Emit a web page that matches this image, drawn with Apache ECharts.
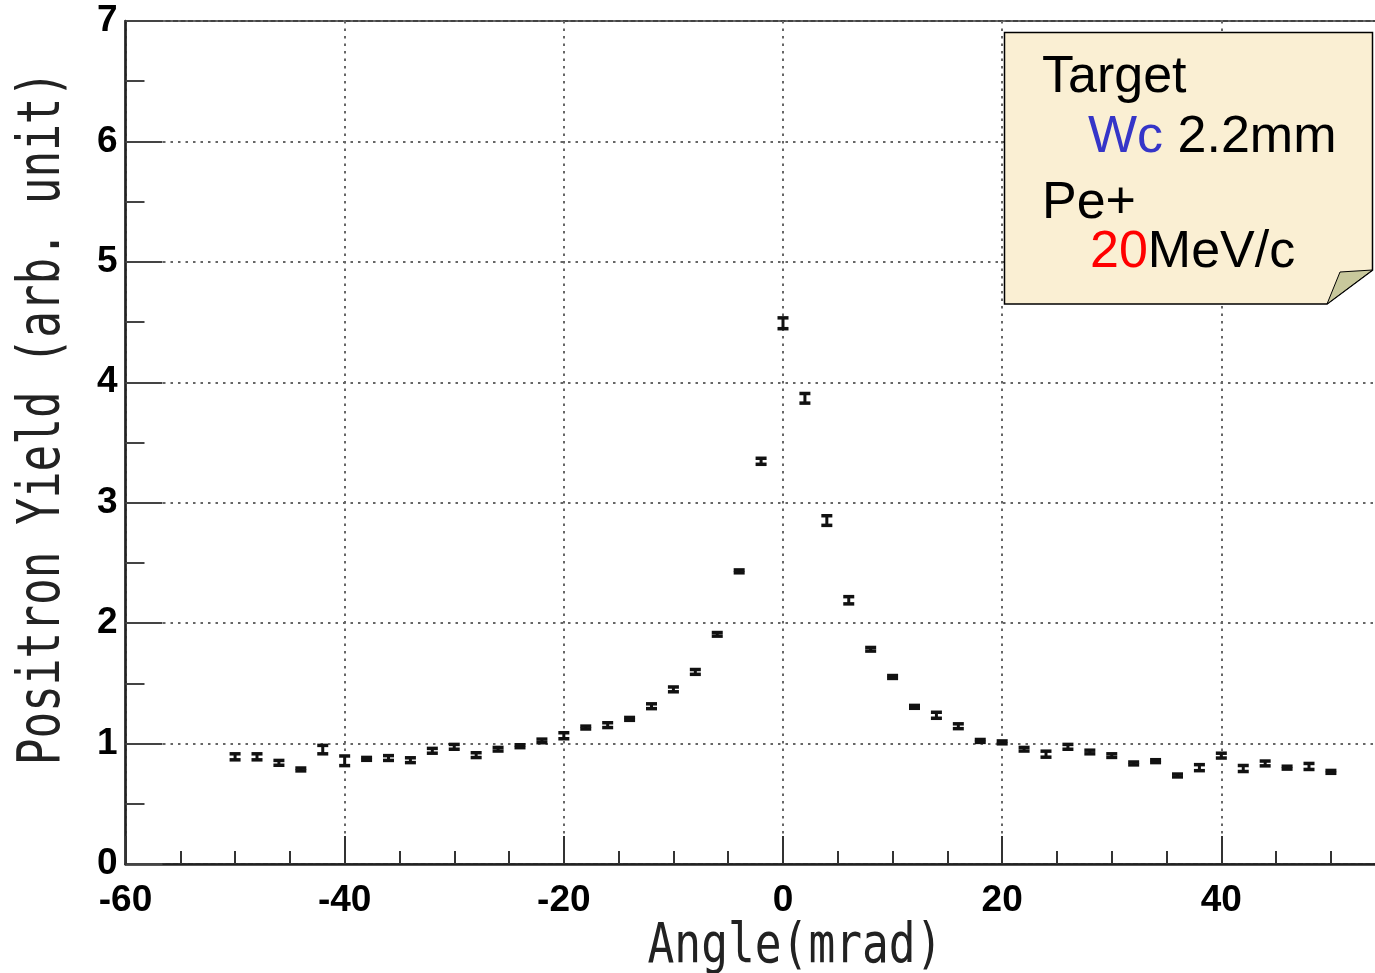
<!DOCTYPE html>
<html>
<head>
<meta charset="utf-8">
<script src="https://cdn.jsdelivr.net/npm/echarts@6/dist/echarts.min.js"></script>
<style>
html,body{margin:0;padding:0;background:#fff;}
#c{width:1375px;height:973px;}
</style>
</head>
<body>
<div id="c"></div>
<script>
const angles = [-50,-48,-46,-44,-42,-40,-38,-36,-34,-32,-30,-28,-26,-24,-22,-20,-18,-16,-14,-12,-10,-8,-6,-4,-2,0,2,4,6,8,10,12,14,16,18,20,22,24,26,28,30,32,34,36,38,40,42,44,46,48,50];
const yields = [0.89,0.89,0.84,0.785,0.95,0.857,0.873,0.88,0.862,0.94,0.973,0.904,0.953,0.978,1.022,1.065,1.133,1.153,1.205,1.31,1.45,1.595,1.907,2.43,3.344,4.49,3.867,2.852,2.19,1.783,1.553,1.305,1.235,1.144,1.022,1.01,0.953,0.912,0.973,0.93,0.90,0.835,0.854,0.735,0.80,0.90,0.793,0.835,0.80,0.81,0.765];
const errors = [0.025,0.025,0.02,0.012,0.035,0.04,0.012,0.02,0.02,0.02,0.02,0.02,0.015,0.012,0.015,0.025,0.012,0.02,0.012,0.02,0.02,0.02,0.015,0.012,0.025,0.045,0.04,0.04,0.03,0.015,0.012,0.012,0.025,0.02,0.012,0.012,0.015,0.025,0.02,0.015,0.015,0.012,0.012,0.012,0.025,0.02,0.025,0.02,0.012,0.025,0.012];
const xTicks = [-60,-40,-20,0,20,40,60];
const yTicks = [0,1,2,3,4,5,6,7];
const xTitle = 'Angle(mrad)';
const yTitle = 'Positron Yield (arb. unit)';
const legendLines = ['Target', 'Wc 2.2mm', 'Pe+', '20MeV/c'];

const points = angles.map((a, i) => [a, yields[i], errors[i]]);

const chart = echarts.init(document.getElementById('c'));
const labelFont = {color: '#000', fontFamily: 'Liberation Sans', fontWeight: 'bold', fontSize: 37};
const gridDots = {show: true, lineStyle: {color: '#666', width: 2, type: [2.5, 5]}};

chart.setOption({
  animation: false,
  backgroundColor: '#fff',
  grid: {left: 125.5, width: 1315, top: 21, bottom: 109, containLabel: false, outerBoundsMode: 'none',
         show: true, borderColor: '#444', borderWidth: 2},
  xAxis: {
    type: 'value', min: -60, max: 60, interval: 20,
    axisLine: {onZero: false, lineStyle: {color: '#222', width: 2.5}},
    axisTick: {inside: true, length: 28, lineStyle: {color: '#333', width: 2}},
    minorTick: {show: true, splitNumber: 4, length: 13, lineStyle: {color: '#333', width: 2}},
    splitLine: gridDots,
    axisLabel: Object.assign({margin: 18, formatter: v => xTicks.includes(v) ? String(v) : ''}, labelFont)
  },
  yAxis: {
    type: 'value', min: 0, max: 7, interval: 1,
    axisLine: {onZero: false, lineStyle: {color: '#222', width: 2.5}},
    axisTick: {inside: true, length: 37, lineStyle: {color: '#444', width: 2}},
    minorTick: {show: true, splitNumber: 2, length: 19, lineStyle: {color: '#444', width: 2}},
    splitLine: gridDots,
    axisLabel: Object.assign({margin: 8, formatter: v => yTicks.includes(v) ? String(v) : ''}, labelFont)
  },
  series: [{
    type: 'custom',
    name: 'Positron Yield',
    data: points,
    encode: {x: 0, y: 1},
    renderItem: function (params, api) {
      const x = api.value(0), y = api.value(1), e = api.value(2);
      const t = api.coord([x, y + e]);
      const b = api.coord([x, y - e]);
      const hw = 5.5;
      const st = {stroke: '#111', lineWidth: 3.5};
      return {
        type: 'group',
        children: [
          {type: 'line', shape: {x1: t[0], y1: t[1], x2: b[0], y2: b[1]}, style: {stroke: '#111', lineWidth: 3}},
          {type: 'line', shape: {x1: t[0] - hw, y1: t[1], x2: t[0] + hw, y2: t[1]}, style: st},
          {type: 'line', shape: {x1: b[0] - hw, y1: b[1], x2: b[0] + hw, y2: b[1]}, style: st}
        ]
      };
    }
  }],
  graphic: [
    {type: 'polygon', z: 100, shape: {points: [[1004.5,32.5],[1372.5,32.5],[1372.5,270],[1327,304],[1004.5,304]]},
     style: {fill: '#faefd3', stroke: '#000', lineWidth: 1.5}},
    {type: 'polygon', z: 101, shape: {points: [[1327,304],[1340,272],[1372.5,270]]},
     style: {fill: '#c8c89c', stroke: '#000', lineWidth: 1}},
    {type: 'text', z: 102, x: 1042, y: 78, style: {text: legendLines[0], font: '52px "Liberation Sans"', fill: '#000', verticalAlign: 'middle'}},
    {type: 'text', z: 102, x: 1088, y: 138, style: {text: '{b|Wc} ' + legendLines[1].slice(3), font: '52px "Liberation Sans"', fill: '#000', verticalAlign: 'middle',
      rich: {b: {fill: '#3535c8', font: '52px "Liberation Sans"'}}}},
    {type: 'text', z: 102, x: 1042, y: 204, style: {text: legendLines[2], font: '52px "Liberation Sans"', fill: '#000', verticalAlign: 'middle'}},
    {type: 'text', z: 102, x: 1090, y: 253, style: {text: '{r|20}' + legendLines[3].slice(2), font: '52px "Liberation Sans"', fill: '#000', verticalAlign: 'middle',
      rich: {r: {fill: '#ff0000', font: '52px "Liberation Sans"'}}}},
    {type: 'text', z: 102, x: 44, y: 418, rotation: Math.PI / 2, scaleX: 0.765,
     style: {text: yTitle, font: '58px "DejaVu Sans Mono"', fill: '#222', align: 'center', verticalAlign: 'middle'}},
    {type: 'text', z: 102, x: 795, y: 948, scaleX: 0.81,
     style: {text: xTitle, font: '55px "DejaVu Sans Mono"', fill: '#222', align: 'center', verticalAlign: 'middle'}}
  ]
});
</script>
</body>
</html>
